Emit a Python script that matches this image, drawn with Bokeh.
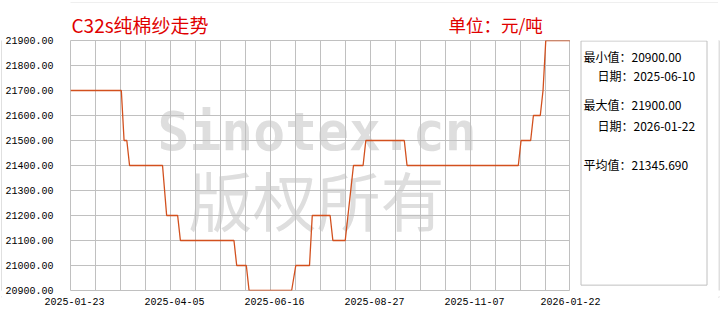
import pandas as pd
from bokeh.plotting import figure
from bokeh.layouts import column, row
from bokeh.models import Range1d, FixedTicker, NumeralTickFormatter, Label
from bokeh.core.properties import value
from bokeh.embed import file_html
from bokeh.resources import INLINE

# ---------------- data ----------------
dates = [
    "2025-01-23", "2025-03-01", "2025-03-03", "2025-03-05", "2025-03-07",
    "2025-03-31", "2025-04-03", "2025-04-11", "2025-04-13", "2025-05-22",
    "2025-05-24", "2025-05-31", "2025-06-02", "2025-07-03", "2025-07-06",
    "2025-07-16", "2025-07-18", "2025-07-31", "2025-08-02", "2025-08-11",
    "2025-08-13", "2025-08-15", "2025-08-17", "2025-08-24", "2025-08-26",
    "2025-09-23", "2025-09-25", "2025-12-15", "2025-12-17", "2025-12-24",
    "2025-12-26", "2025-12-31", "2026-01-02", "2026-01-03", "2026-01-04",
    "2026-01-22",
]
prices = [
    21700, 21700, 21500, 21500, 21400,
    21400, 21200, 21200, 21100, 21100,
    21000, 21000, 20900, 20900, 21000,
    21000, 21200, 21200, 21100, 21100,
    21200, 21300, 21400, 21400, 21500,
    21500, 21400, 21400, 21500, 21500,
    21600, 21600, 21700, 21800, 21900,
    21900,
]
x_start = "2025-01-23"
x_end = "2026-01-22"
x_tick_labels = ["2025-01-23", "2025-04-05", "2025-06-16", "2025-08-27", "2025-11-07", "2026-01-22"]
y_ticks = [20900, 21000, 21100, 21200, 21300, 21400, 21500, 21600, 21700, 21800, 21900]
title_text = "C32s纯棉纱走势"
unit_text = "单位：元/吨"
stats_lines = ["最小值：20900.00", "日期：2025-06-10", "最大值：21900.00", "日期：2026-01-22", "平均值：21345.690"]
watermark_lines = ["Sinotex.cn", "版权所有"]

# ---------------- layout (page pixels) ----------------
W, H = 720, 330
S = 2                               # border strip thickness
FL, FR, FT, FB = 70, 570, 40, 290   # chart frame (page px)
YA = 296                            # top of the x-axis strip
YB = H - S                          # top of the bottom border strip
GRID = "#c0c0c0"
RED = "#e00000"
MONO = "Liberation Mono"
CJK = "Noto Sans CJK SC"
BORDER = dict(left=[1.5], right=[W - 1.5], top=[1.5], bottom=[YB + 0.5])


def blank(x0, x1, y0, y1):
    """Figure whose frame fills it, in page-pixel coordinates (y downwards)."""
    f = figure(width=x1 - x0, height=y1 - y0, x_range=Range1d(x0, x1), y_range=Range1d(y1, y0),
               output_backend="svg", toolbar_location=None, min_border=0,
               x_axis_location=None, y_axis_location=None)
    f.grid.visible = False
    f.outline_line_color = None
    f.background_fill_color = "white"
    f.border_fill_color = "white"
    f.quad(fill_color=None, line_color=GRID, line_width=1, **BORDER)
    return f


def style_axis(ax):
    ax.axis_line_color = None
    ax.major_tick_line_color = None
    ax.minor_tick_line_color = None
    ax.major_tick_in = 0
    ax.major_tick_out = 0
    ax.minor_tick_in = 0
    ax.minor_tick_out = 0
    ax.major_label_text_font = MONO
    ax.major_label_text_font_size = "10px"
    ax.major_label_text_color = "black"


def plain(f):
    f.grid.visible = False
    f.outline_line_color = None
    f.background_fill_color = "white"
    f.border_fill_color = "white"


t0 = pd.Timestamp(x_start)
t1 = pd.Timestamp(x_end)
ms0 = t0.value // 10**6
ms1 = t1.value // 10**6
span = ms1 - ms0
FW = FR - FL
xr = Range1d(t0, t1)
yr = Range1d(y_ticks[0], y_ticks[-1])

# ---- header: title + unit ----
head = blank(FL, W - S, S, FT)
head.text(x=[71], y=[24], text=[title_text], text_font=value(CJK), text_font_size="19px",
          text_color=RED, text_baseline="middle", text_align="left")
head.text(x=[448], y=[24], text=[unit_text], text_font=value(CJK), text_font_size="17.5px",
          text_color=RED, text_baseline="middle", text_align="left")

# ---- y axis (shares the chart's y range) ----
yfig = figure(width=FL - S, height=YA - S, x_range=Range1d(0, 1), y_range=yr,
              output_backend="svg", toolbar_location=None,
              min_border_left=FL - S - 1, min_border_right=0,
              min_border_top=FT - S, min_border_bottom=YA - FB, x_axis_location=None)
plain(yfig)
yfig.yaxis.ticker = FixedTicker(ticks=y_ticks)
yfig.yaxis.formatter = NumeralTickFormatter(format="0.00")
yfig.yaxis.major_label_standoff = 17
style_axis(yfig.yaxis[0])

# ---- main chart ----
p = figure(width=FR - FL, height=YA - FT, x_axis_type="datetime", x_range=xr, y_range=yr,
           output_backend="svg", toolbar_location=None, min_border=0,
           min_border_bottom=YA - FB, y_axis_location=None)
p.xaxis.visible = False
p.background_fill_color = "white"
p.border_fill_color = "white"
p.outline_line_color = GRID
p.outline_line_width = 1
p.xgrid.ticker = FixedTicker(ticks=[ms0 + span * k / 20 for k in range(21)])
p.ygrid.ticker = FixedTicker(ticks=y_ticks)
for g in (p.xgrid, p.ygrid):
    g.grid_line_color = GRID
    g.grid_line_width = 1

# watermark (screen units relative to the frame, y measured up from its bottom)
p.add_layout(Label(x=157 - FL, y=FB - 131, x_units="screen", y_units="screen",
                   text=watermark_lines[0], text_font="DejaVu Sans Mono", text_font_style="bold",
                   text_font_size="53px", text_color="#dedede", text_baseline="middle",
                   level="image"))
p.add_layout(Label(x=188 - FL, y=FB - 197, x_units="screen", y_units="screen",
                   text=watermark_lines[1], text_font=CJK,
                   text_font_size="64px", text_color="#dedede", text_baseline="middle",
                   level="image"))

df = pd.DataFrame({"date": pd.to_datetime(dates), "price": prices})
p.line(x="date", y="price", source=df, line_color="#d2501e", line_width=1.3)

# ---- side panel: statistics ----
side = blank(FR, W - S, FT, YA)
side.quad(left=[580.5], right=[706.5], top=[FT + 0.5], bottom=[FB + 0.5],
          fill_color=None, line_color=GRID, line_width=1)
stat_x = [583, 597, 583, 597, 583]
stat_y = [56, 76, 106, 127, 167]
side.text(x=stat_x, y=stat_y, text=stats_lines, text_font=value(CJK), text_font_size="12px",
          text_color="black", text_baseline="middle", text_align="left")

# ---- x axis strip (shares the chart's x range) ----
xfig = figure(width=W - 2 * S, height=YB - YA, x_axis_type="datetime", x_range=xr,
              y_range=Range1d(0, 1), output_backend="svg", toolbar_location=None,
              min_border_left=FL - S, min_border_right=W - S - FR,
              min_border_top=0, min_border_bottom=YB - YA - 1, y_axis_location=None)
plain(xfig)
offs = [4, 104, 204, 304, 404, 500]
xt = [int(round(ms0 + span * o / FW)) for o in offs]
xfig.xaxis.ticker = FixedTicker(ticks=xt)
xfig.xaxis.major_label_overrides = {t: lab for t, lab in zip(xt, x_tick_labels)}
xfig.xaxis.major_label_standoff = 0
style_axis(xfig.xaxis[0])

# ---- border strips ----
tstrip = blank(0, W, 0, S)
l1 = blank(0, S, S, YA)
r1 = blank(W - S, W, S, YA)
l2 = blank(0, S, YA, YB)
r2 = blank(W - S, W, YA, YB)
bstrip = blank(0, W, YB, H)

layout = column(
    tstrip,
    row(l1, yfig, column(head, row(p, side)), r1),
    row(l2, xfig, r2),
    bstrip,
)

open("out.html", "w").write(file_html(layout, INLINE))
